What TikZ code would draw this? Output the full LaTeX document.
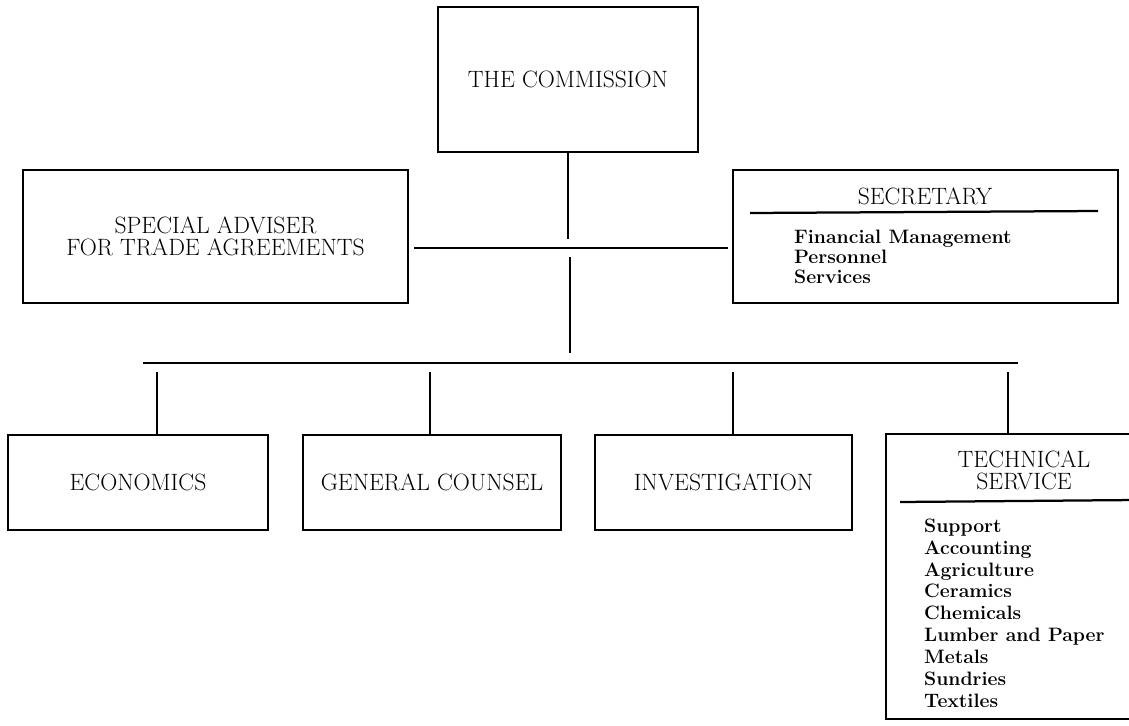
\documentclass[tikz,border=0pt]{standalone}
\begin{document}
\begin{tikzpicture}[x=0.025cm,y=-0.025cm,line width=1.6pt,
	box/.style={draw,rectangle,inner sep=0pt},
	head/.style={font=\fontsize{16.8}{15.5}\selectfont,align=center,inner sep=0pt},
	items/.style={font=\bfseries\fontsize{13.8}{14.5}\selectfont,align=left,anchor=north west,inner sep=0pt}]
	\useasboundingbox (0,0) rectangle (1129,725);
	\node[box,minimum width=6.5cm,minimum height=3.625cm,head] (comm) at (568,79.5) {THE COMMISSION};
	\node[box,minimum width=9.625cm,minimum height=3.325cm,head] (adv) at (215.5,236.5) {SPECIAL ADVISER\\FOR TRADE AGREEMENTS};
	\node[box,minimum width=9.625cm,minimum height=3.325cm] (sec) at (925.5,236.5) {};
	\node[head] (sectitle) at (925,196) {SECRETARY};
	\draw (750,213) -- (1098,211);
	\node[items] (seclist) at (793,228.5) {Financial Management\\Personnel\\Services};
	\node[box,minimum width=6.5cm,minimum height=2.375cm,head] (econ) at (138,482.5) {ECONOMICS};
	\node[box,minimum width=6.45cm,minimum height=2.375cm,head] (gc) at (432,482.5) {GENERAL COUNSEL};
	\node[box,minimum width=6.425cm,minimum height=2.375cm,head] (inv) at (723.5,482.5) {INVESTIGATION};
	\node[box,minimum width=6.6cm,minimum height=7.125cm] (tech) at (1018,576.5) {};
	\node[head,font=\fontsize{16.8}{15.6}\selectfont] (techtitle) at (1024,470) {TECHNICAL\\SERVICE};
	\draw (900,502) -- (1135,500);
	\node[items,font=\bfseries\fontsize{13.8}{15.6}\selectfont] (techlist) at (923,517.5) {Support\\Accounting\\Agriculture\\Ceramics\\Chemicals\\Lumber and Paper\\Metals\\Sundries\\Textiles};
	\coordinate (up) at (568,239);
	\coordinate (down) at (570,257);
	\coordinate (bus) at (570,353);
	\coordinate (h) at (0,248);
	\draw (comm.south) -- (up);
	\draw (down) -- (bus);
	\draw ([xshift=0.125cm]adv.east |- h) -- ([xshift=-0.1cm]sec.west |- h);
	\draw (143,363) -- (1018,363);
	\foreach \dx/\bx in {157/econ,430/gc,733/inv,1008/tech}
		\draw (\dx,372) -- (\bx.north -| \dx,372);
\end{tikzpicture}
\end{document}
